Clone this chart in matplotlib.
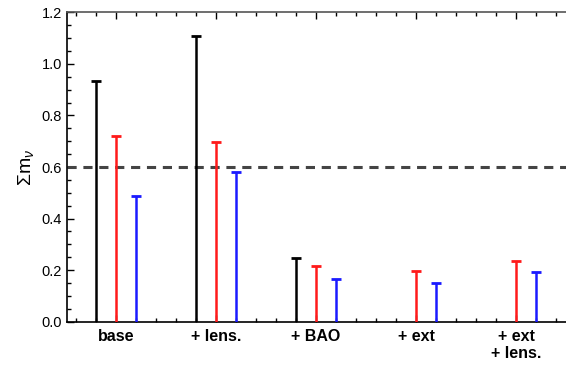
import numpy as np
import matplotlib.pyplot as plt
from matplotlib.ticker import MultipleLocator

plt.rcParams['font.family'] = 'Liberation Sans'
plt.rcParams['mathtext.fontset'] = 'custom'
plt.rcParams['mathtext.rm'] = 'Liberation Sans'
plt.rcParams['mathtext.it'] = 'Liberation Sans:italic'

categories = ['base', '+ lens.', '+ BAO', '+ ext', '+ ext\n+ lens.']
# upper limits per dataset (None = not shown)
black = [0.935, 1.11, 0.248, None, None]
red = [0.72, 0.698, 0.215, 0.197, 0.235]
blue = [0.486, 0.582, 0.166, 0.152, 0.194]
threshold = 0.6

fig = plt.figure(figsize=(5.66, 3.65), dpi=100)
ax = fig.add_axes([0.1184, 0.1186, 0.8816, 0.8477])

xc = np.arange(1, len(categories) + 1)
for vals, off, col in [(black, -0.2, 'black'), (red, 0.0, '#ff1a1a'), (blue, 0.2, '#1a1aff')]:
    xs = [x + off for x, v in zip(xc, vals) if v is not None]
    ys = [v for v in vals if v is not None]
    ax.vlines(xs, 0, ys, color=col, lw=1.8, zorder=3)
    ax.plot(xs, ys, ls='none', marker='_', ms=6.5, mew=2, color=col, zorder=3)

ax.axhline(threshold, color='#444444', lw=2.2, ls=(0, (3, 2.2)), zorder=2)

ax.set_xlim(0.51, 5.5)
ax.set_ylim(0, 1.2)
ax.set_xticks(xc)
ax.set_xticklabels(categories, fontweight='bold', fontsize=11.5)
ax.xaxis.set_minor_locator(MultipleLocator(0.2))
ax.yaxis.set_major_locator(MultipleLocator(0.2))
ax.yaxis.set_minor_locator(MultipleLocator(0.05))
ax.yaxis.set_major_formatter(plt.FormatStrFormatter('%.1f'))
ax.tick_params(which='both', direction='in', top=True, bottom=True, left=True, right=False)
ax.tick_params(which='major', length=5, width=1)
ax.tick_params(which='minor', length=3, width=1)
ax.tick_params(axis='y', labelsize=10.5)
ax.tick_params(axis='x', pad=5)
ax.spines['right'].set_visible(False)
for s in ['left', 'top', 'bottom']:
    ax.spines[s].set_linewidth(1.2)
ax.spines['top'].set_color('#555555')
ax.set_ylabel(r'$\Sigma\mathrm{m}_\nu$', fontsize=14, labelpad=4)

fig.savefig('out.png', dpi=100)
